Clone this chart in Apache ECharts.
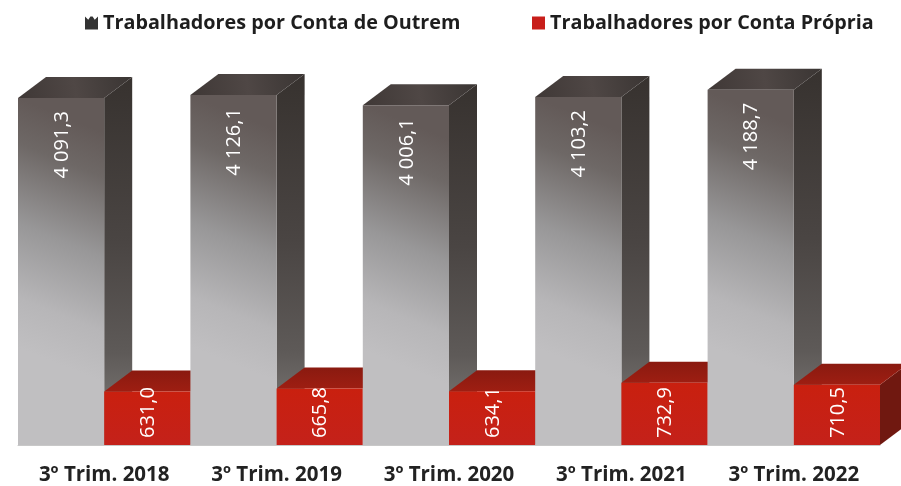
<!DOCTYPE html>
<html>
<head>
<meta charset="utf-8">
<script src="https://cdn.jsdelivr.net/npm/echarts@6/dist/echarts.min.js"></script>
<style>html,body{margin:0;padding:0;background:#fff}#c{width:901px;height:486px}</style>
</head>
<body>
<div id="c"></div>
<script>
const categories = ['3º Trim. 2018','3º Trim. 2019','3º Trim. 2020','3º Trim. 2021','3º Trim. 2022'];
const outrem = [4091.3, 4126.1, 4006.1, 4103.2, 4188.7];
const propria = [631.0, 665.8, 634.1, 732.9, 710.5];
const seriesNames = ['Trabalhadores por Conta de Outrem','Trabalhadores por Conta Própria'];

const DX = 28, DY = 21;
const FONT = '"Open Sans", "Noto Sans", sans-serif';
const grad = (x, y, x2, y2, stops) => ({type:'linear', x, y, x2, y2, colorStops: stops.map(s => ({offset:s[0], color:s[1]}))});
const looks = [
  { front: grad(1,0.1,0,0.72,[[0,'#635a58'],[0.18,'#6e6866'],[0.5,'#989798'],[0.8,'#b7b6b8'],[1,'#c0bfc1']]),
    side: grad(0,0,0,1,[[0,'#37322f'],[0.45,'#4a4543'],[0.75,'#5e5a58'],[1,'#86827f']]),
    top: grad(0,1,1,0,[[0,'#3f3836'],[0.5,'#4f4745'],[1,'#3a3533']]) },
  { front: grad(0,0,0,1,[[0,'#c9200f'],[1,'#c4211a']]),
    side: '#701810',
    top: grad(0,0,0,1,[[0,'#8a1a10'],[1,'#9e1e12']]) }
];

function fmt(v){
  const s = v.toFixed(1).replace('.', ',');
  return s.replace(/^(\d)(\d{3})/, '$1 $2');
}

function renderBar(seriesIdx){
  return function(params, api){
    const i = api.value(0), v = api.value(1);
    const top = api.coord([i, v]);
    const base = api.coord([i, 0]);
    const w = api.size([1, 0])[0] / 2;
    const x0 = seriesIdx === 0 ? top[0] - w : top[0];
    const x1 = x0 + w, yT = top[1], yB = base[1];
    const z = i * 2 + seriesIdx + 1;
    const look = looks[seriesIdx];
    const poly = (points, fill) => ({type:'polygon', z2:z, shape:{points}, style:{fill}});
    const label = seriesIdx === 0
      ? {x:(x0+x1)/2+1, y:yT+13, align:'right'}
      : {x:(x0+x1)/2+1, y:yB-7, align:'left'};
    return {type:'group', children:[
      poly([[x1,yB],[x1+DX,yB-DY],[x1+DX,yT-DY],[x1,yT]], look.side),
      poly([[x0,yT],[x0+DX,yT-DY],[x1+DX,yT-DY],[x1,yT]], look.top),
      poly([[x0,yT],[x1,yT],[x1,yB],[x0,yB]], look.front),
      {type:'text', z2:100, x:label.x, y:label.y, rotation:Math.PI/2,
       style:{text:fmt(v), fill:'#ffffff', font:'20px '+FONT, align:label.align, verticalAlign:'middle'}}
    ]};
  };
}

const chart = echarts.init(document.getElementById('c'), null, {renderer:'canvas'});
const textStyle = {fontFamily:FONT, fontWeight:'bold', fontSize:19.8, color:'#1e1e1e'};
chart.setOption({
  animation:false,
  backgroundColor:'#ffffff',
  legend:[
    {left:80, top:8, data:[{name:seriesNames[0], icon:'path://M0,0 L3,3 L5,0 L7,0 L9,3 L12,0 L12,12 L0,12 Z', itemStyle:{color:'#333333'}}],
     itemWidth:13, itemHeight:13, itemGap:0, textStyle},
    {left:527, top:8, data:[{name:seriesNames[1], icon:'rect', itemStyle:{color:'#c81e1a'}}],
     itemWidth:13, itemHeight:13, itemGap:0, textStyle}
  ],
  grid:{left:18, right:21, top:21, bottom:41},
  xAxis:{type:'category', data:categories,
    axisTick:{show:false},
    axisLine:{lineStyle:{color:'#c8c8c8', width:1}},
    axisLabel:{fontFamily:FONT, fontWeight:'bold', fontSize:20.5, color:'#222222', margin:20}},
  yAxis:{type:'value', min:0, max:5000, show:false, splitLine:{show:false}},
  series:[0,1].map(k => ({
    name:seriesNames[k], type:'custom', renderItem:renderBar(k), clip:false,
    encode:{x:0,y:1},
    itemStyle:{color:k===0?'#333333':'#c81e1a'},
    data:(k===0?outrem:propria).map((v,i)=>[i,v])
  }))
});
</script>
</body>
</html>
